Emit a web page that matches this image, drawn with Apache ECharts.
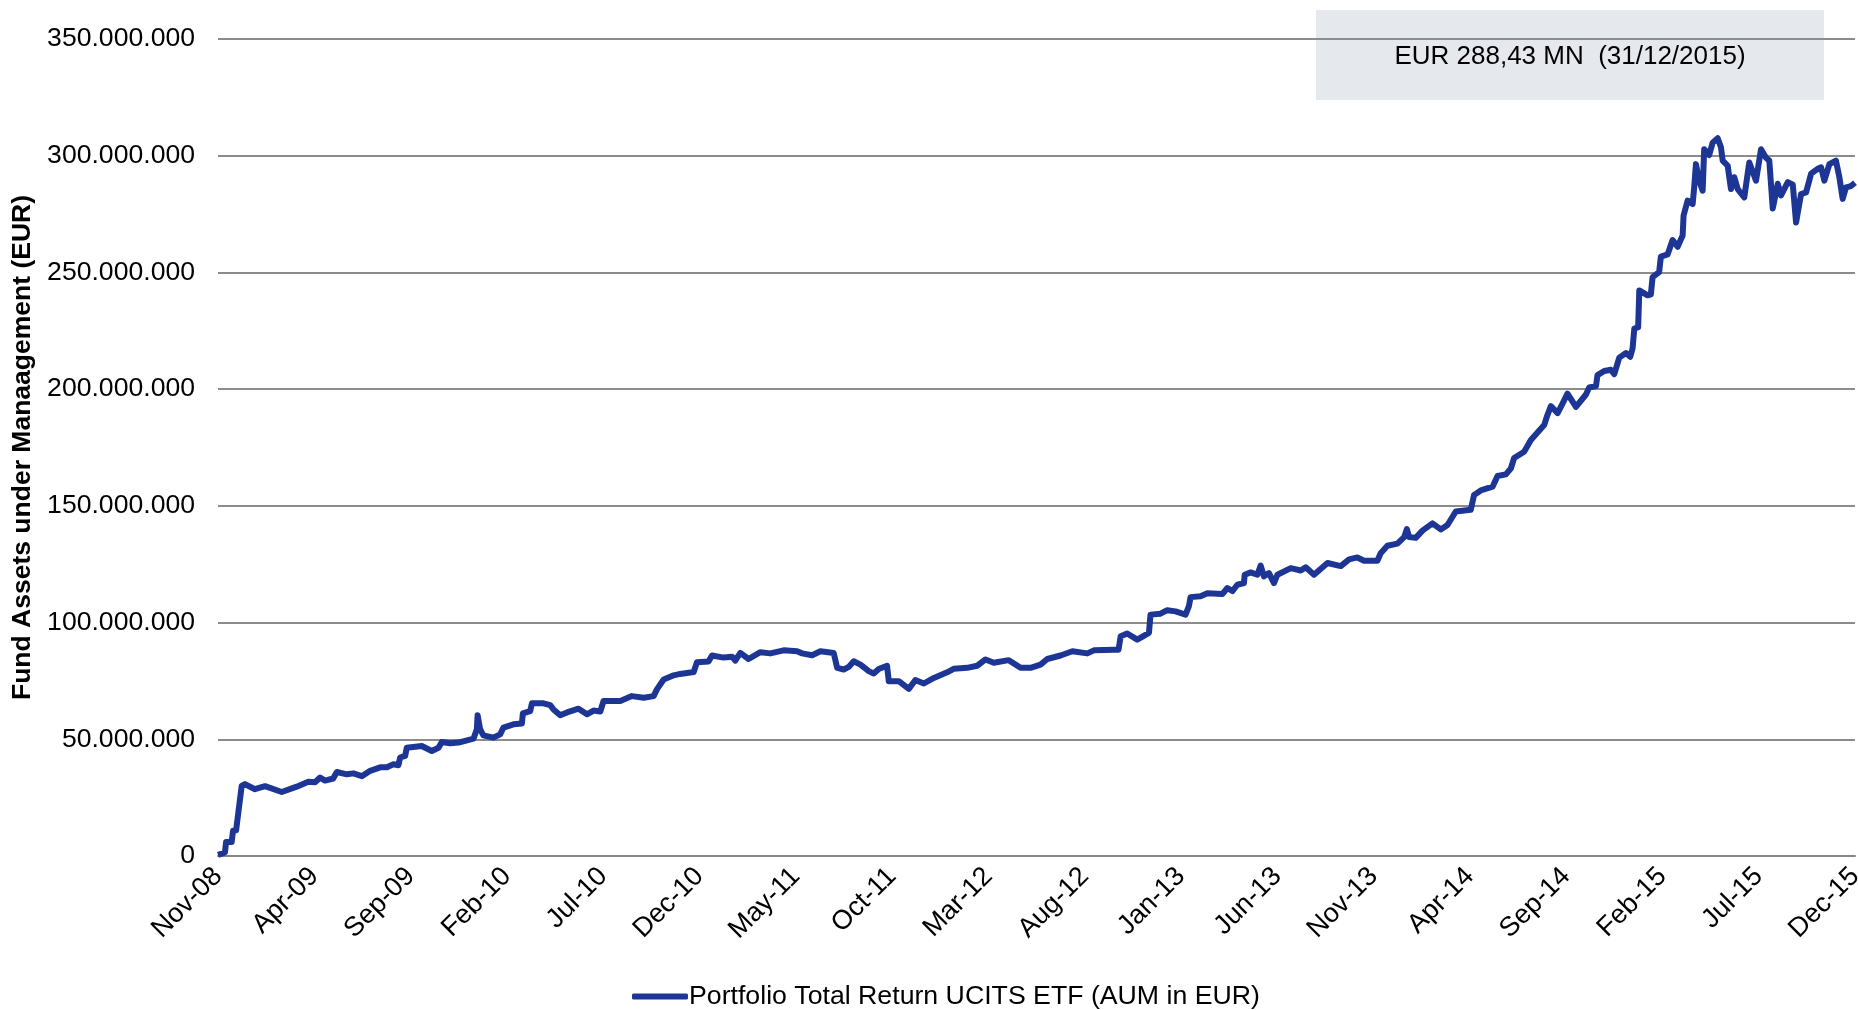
<!DOCTYPE html>
<html>
<head>
<meta charset="utf-8">
<title>Fund AUM</title>
<script src="https://cdn.jsdelivr.net/npm/echarts@6/dist/echarts.min.js"></script>
<style>
  html, body { margin: 0; padding: 0; background: #fff; }
  #chart { width: 1858px; height: 1010px; }
</style>
</head>
<body>
<div id="chart"></div>
<script>
// x axis tick labels, one every 5 months from Nov-08
const tickLabels = ['Nov-08', 'Apr-09', 'Sep-09', 'Feb-10', 'Jul-10', 'Dec-10', 'May-11', 'Oct-11', 'Mar-12',
  'Aug-12', 'Jan-13', 'Jun-13', 'Nov-13', 'Apr-14', 'Sep-14', 'Feb-15', 'Jul-15', 'Dec-15'];

// time of each reading, in months since Nov-08
const months = [
  0.00, 0.36, 0.42, 0.71, 0.78, 0.94, 1.23, 1.40, 1.92, 2.44, 3.31, 4.09, 4.69, 5.04, 5.30, 5.56, 5.98, 6.17, 6.69, 7.03,
  7.47, 7.90, 8.42, 8.77, 9.11, 9.37, 9.46, 9.72, 9.80, 10.58, 11.10, 11.45, 11.62, 12.05, 12.49, 13.27, 13.44, 13.48, 13.61, 13.78,
  14.30, 14.65, 14.82, 15.34, 15.78, 15.83, 16.21, 16.30, 16.90, 17.25, 17.42, 17.77, 18.12, 18.72, 19.16, 19.50, 19.85, 20.02, 20.89, 21.49,
  22.10, 22.62, 22.79, 23.14, 23.66, 24.00, 24.70, 24.87, 25.47, 25.65, 26.25, 26.69, 26.86, 27.12, 27.55, 28.16, 28.68, 29.37, 30.07, 30.33,
  30.85, 31.28, 31.97, 32.15, 32.49, 32.75, 33.01, 33.36, 33.79, 34.05, 34.31, 34.74, 34.83, 35.35, 35.87, 36.21, 36.65, 37.17, 37.86, 38.20,
  38.90, 39.42, 39.85, 40.28, 41.06, 41.67, 42.19, 42.71, 43.06, 43.75, 44.36, 45.14, 45.48, 46.52, 46.76, 46.87, 47.21, 47.73, 48.34, 48.42,
  48.94, 49.29, 49.72, 50.24, 50.41, 50.50, 51.02, 51.37, 52.15, 52.41, 52.67, 52.93, 53.27, 53.31, 53.62, 53.97, 54.14, 54.31, 54.57, 54.83,
  55.01, 55.70, 56.22, 56.48, 56.91, 57.61, 58.30, 58.73, 59.16, 59.51, 60.20, 60.37, 60.72, 61.24, 61.59, 61.73, 61.85, 62.19, 62.54, 63.06,
  63.49, 63.84, 64.27, 65.05, 65.22, 65.57, 66.18, 66.44, 66.87, 67.13, 67.30, 67.82, 68.17, 68.86, 69.03, 69.21, 69.56, 69.82, 70.07, 70.51,
  71.03, 71.20, 71.55, 71.63, 71.98, 72.32, 72.50, 72.76, 73.11, 73.33, 73.45, 73.54, 73.74, 73.80, 74.23, 74.40, 74.49, 74.83, 74.92, 75.27,
  75.53, 75.79, 76.05, 76.10, 76.31, 76.57, 76.65, 76.74, 76.91, 77.09, 77.17, 77.43, 77.61, 77.87, 78.04, 78.13, 78.39, 78.56, 78.73, 78.91,
  79.25, 79.51, 79.86, 80.12, 80.38, 80.55, 80.73, 80.99, 81.16, 81.51, 81.77, 81.94, 82.20, 82.46, 82.72, 83.06, 83.24, 83.41, 83.67, 84.01,
  84.19, 84.36, 84.53, 84.79, 85.00
];

// assets under management, EUR millions
const aumMn = [
  0.5, 1.5, 6.0, 6.0, 10.8, 11.0, 30.0, 30.8, 28.6, 29.9, 27.4, 29.7, 31.8, 31.6, 33.6, 32.3, 33.2, 36.0, 35.0, 35.4,
  34.2, 36.5, 38.0, 38.0, 39.3, 38.9, 42.2, 42.9, 46.4, 47.1, 45.0, 46.4, 48.8, 48.3, 48.6, 50.3, 54.3, 60.3, 54.3, 51.7,
  50.7, 52.1, 55.0, 56.4, 56.8, 61.1, 62.1, 65.4, 65.4, 64.6, 62.8, 60.3, 61.5, 63.1, 60.7, 62.3, 61.9, 66.4, 66.4, 68.5,
  67.8, 68.5, 71.4, 75.6, 77.4, 78.0, 78.8, 83.0, 83.3, 85.9, 85.0, 85.4, 83.7, 87.0, 84.4, 87.3, 86.8, 88.1, 87.7, 86.8,
  86.0, 87.7, 87.0, 80.6, 79.9, 81.0, 83.4, 82.0, 79.2, 78.2, 80.1, 81.5, 74.9, 74.9, 71.6, 75.4, 73.9, 76.3, 78.7, 80.2,
  80.6, 81.5, 84.2, 82.8, 83.9, 80.6, 80.6, 82.0, 84.4, 85.9, 87.7, 86.8, 88.1, 88.4, 88.4, 94.1, 95.3, 92.7, 95.6, 103.4,
  103.8, 105.3, 104.8, 103.4, 106.9, 110.9, 111.3, 112.6, 112.2, 114.8, 113.5, 116.2, 116.9, 120.5, 121.5, 120.5, 124.4, 119.8, 121.2, 116.9,
  120.5, 123.3, 122.3, 123.7, 120.5, 125.5, 124.2, 127.1, 127.9, 126.5, 126.5, 129.7, 132.9, 133.8, 136.6, 140.0, 136.6, 136.3, 139.4, 142.5,
  139.9, 141.8, 147.6, 148.3, 154.7, 156.6, 158.2, 162.8, 163.5, 166.0, 170.5, 173.2, 178.2, 184.6, 188.9, 192.7, 189.7, 193.9, 198.1, 192.4,
  197.7, 200.7, 201.3, 206.0, 207.8, 208.3, 206.4, 213.5, 215.5, 213.9, 217.4, 225.9, 226.5, 242.3, 240.2, 240.6, 248.0, 250.1, 256.8, 257.7,
  263.9, 261.0, 265.8, 274.4, 280.8, 279.3, 286.4, 296.4, 289.3, 285.0, 302.8, 300.3, 305.6, 307.5, 303.6, 297.9, 295.7, 285.7, 290.8, 285.7,
  282.1, 297.1, 289.3, 302.8, 299.1, 297.9, 277.4, 288.0, 283.0, 288.7, 287.6, 271.4, 283.6, 284.3, 292.3, 294.4, 295.0, 289.3, 296.4, 297.9,
  290.7, 281.5, 286.4, 287.0, 288.43
];

const seriesName = 'Portfolio Total Return UCITS ETF (AUM in EUR)';
const note = 'EUR 288,43 MN  (31/12/2015)';

const font = 'Liberation Sans, Arial, sans-serif';
const chart = echarts.init(document.getElementById('chart'));

chart.setOption({
  animation: false,
  textStyle: { fontFamily: font },
  grid: {
    left: 218,
    right: 3,
    top: 39,
    bottom: 154,
    outerBoundsMode: 'none'
  },
  legend: {
    data: [seriesName],
    left: 627,
    top: 978,
    icon: 'roundRect',
    itemWidth: 56,
    itemHeight: 6,
    itemGap: 0,
    textStyle: { fontSize: 26.7, color: '#000', fontFamily: font, padding: [0, 0, 0, -4] }
  },
  xAxis: {
    type: 'value',
    min: 0,
    max: 85,
    interval: 5,
    splitLine: { show: false },
    axisTick: { show: false },
    axisLine: { show: true, onZero: false, lineStyle: { color: '#878787', width: 2 } },
    axisLabel: {
      rotate: 45,
      margin: 16,
      fontSize: 27,
      color: '#000',
      fontFamily: font,
      formatter: v => tickLabels[Math.round(v / 5)] || ''
    }
  },
  yAxis: {
    type: 'value',
    min: 0,
    max: 350000000,
    interval: 50000000,
    name: 'Fund Assets under Manaagement (EUR)',
    nameLocation: 'middle',
    nameRotate: 90,
    nameGap: 177,
    nameTextStyle: { fontSize: 26.5, fontWeight: 'bold', color: '#000', fontFamily: font },
    axisLine: { show: false },
    axisTick: { show: false },
    splitLine: { lineStyle: { color: '#8c8c8c', width: 2 } },
    axisLabel: {
      margin: 23,
      fontSize: 26.6,
      color: '#000',
      fontFamily: font,
      formatter: v => String(v).replace(/\B(?=(\d{3})+(?!\d))/g, '.')
    }
  },
  series: [{
    name: seriesName,
    type: 'line',
    showSymbol: false,
    symbol: 'none',
    color: '#1d3594',
    lineStyle: { width: 6, color: '#1d3594', join: 'round' },
    data: months.map((m, i) => [m, aumMn[i] * 1e6]),
    z: 5
  }],
  graphic: [{
    type: 'group',
    left: 1316,
    top: 10,
    children: [{
      type: 'rect',
      shape: { x: 0, y: 0, width: 508, height: 90 },
      style: { fill: '#e5e8ed' }
    }, {
      type: 'text',
      x: 254,
      y: 47,
      style: {
        text: note,
        fontSize: 26,
        fontFamily: font,
        fill: '#000',
        align: 'center',
        verticalAlign: 'middle'
      }
    }]
  }]
});
</script>
</body>
</html>
